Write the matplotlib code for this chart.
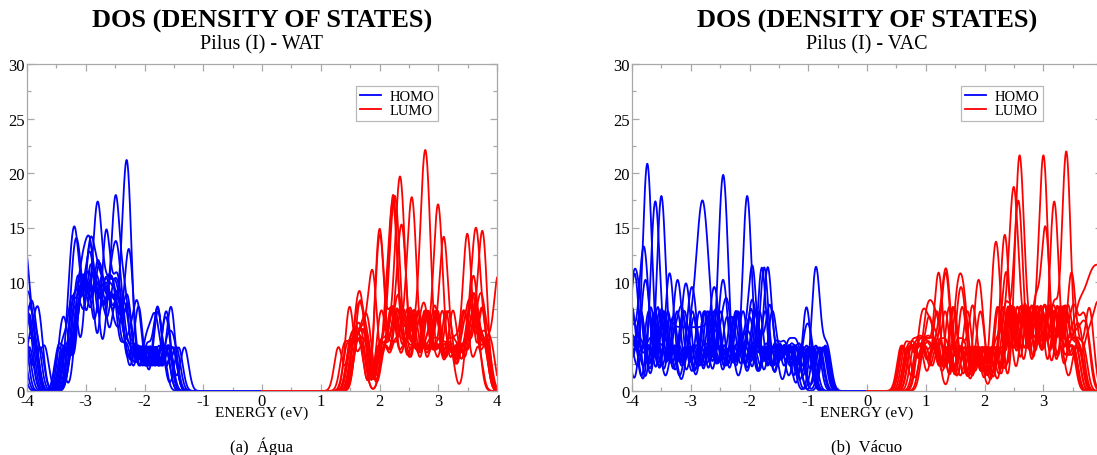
import numpy as np
import matplotlib
matplotlib.use("Agg")
import matplotlib.pyplot as plt
from matplotlib.lines import Line2D
from matplotlib.ticker import MultipleLocator, FuncFormatter

# Orbital energies (eV) of each conformation, relative to the gap centre.
# Every list is one conformation; its DOS curve is the Gaussian-broadened spectrum.
wat_homo = [
    [-4.1, -4.06, -4.02, -3.98, -3.86, -3.38, -3.18, -3.15, -3.08, -2.98, -2.95, -2.9, -2.84, -2.7, -2.66, -2.6,
     -2.47, -2.44, -2.3, -2.25, -2.04, -1.82, -1.6],
    [-4.04, -3.93, -3.88, -3.7, -3.26, -3.2, -3.1, -3.06, -3.0, -2.95, -2.91, -2.87, -2.76, -2.7, -2.56, -2.52,
     -2.44, -2.38, -2.18, -1.96, -1.8, -1.75, -1.52],
    [-4.0, -3.94, -3.82, -3.24, -3.2, -3.16, -3.11, -3.06, -2.92, -2.88, -2.82, -2.72, -2.68, -2.52, -2.47, -2.36,
     -2.3, -2.12, -2.08, -1.86, -1.64],
    [-4.18, -3.96, -3.3, -3.24, -3.2, -3.17, -3.13, -3.02, -2.98, -2.84, -2.8, -2.77, -2.66, -2.63, -2.5, -2.44,
     -2.3, -2.26, -2.04, -1.8, -1.74, -1.52],
    [-4.03, -3.99, -3.9, -3.42, -3.34, -3.16, -3.12, -3.02, -2.98, -2.86, -2.83, -2.8, -2.77, -2.74, -2.64, -2.6,
     -2.5, -2.47, -2.36, -2.14, -1.92, -1.7],
    [-4.16, -4.0, -3.78, -3.22, -3.08, -3.04, -2.97, -2.86, -2.82, -2.72, -2.68, -2.55, -2.52, -2.49, -2.47, -2.44,
     -2.34, -2.3, -2.08, -1.86, -1.64],
    [-4.1, -4.05, -3.45, -3.14, -3.1, -2.96, -2.92, -2.88, -2.78, -2.72, -2.6, -2.56, -2.45, -2.36, -2.33, -2.31,
     -2.29, -2.27, -2.24, -2.02, -1.8, -1.76, -1.58],
    [-4.02, -3.96, -3.32, -3.12, -3.08, -2.98, -2.94, -2.88, -2.7, -2.67, -2.64, -2.61, -2.5, -2.46, -2.4, -2.2,
     -1.98, -1.76, -1.57, -1.53],
    [-4.22, -4.08, -3.46, -3.3, -3.1, -3.06, -3.0, -2.9, -2.86, -2.8, -2.62, -2.58, -2.5, -2.47, -2.44, -2.34,
     -2.18, -1.98, -1.86, -1.78, -1.6],
    [-4.02, -3.88, -3.22, -3.08, -3.04, -2.98, -2.86, -2.82, -2.76, -2.64, -2.6, -2.48, -2.35, -2.28, -2.25, -2.22,
     -2.02, -1.8, -1.58, -1.32],
    [-4.0, -3.93, -3.36, -3.16, -3.1, -3.05, -2.94, -2.9, -2.8, -2.74, -2.62, -2.58, -2.46, -2.42, -2.26, -2.14,
     -2.1, -1.9, -1.68, -1.6],
    [-3.96, -3.84, -3.78, -3.22, -3.18, -3.0, -2.95, -2.91, -2.88, -2.76, -2.72, -2.62, -2.58, -2.48, -2.43, -2.28,
     -2.1, -1.88, -1.66, -1.46],
    [-4.28, -4.12, -3.34, -3.14, -3.1, -2.98, -2.94, -2.9, -2.86, -2.78, -2.74, -2.64, -2.6, -2.52, -2.46, -2.3,
     -2.08, -1.86, -1.66, -1.6],
    [-4.06, -4.01, -3.86, -3.28, -3.18, -3.14, -3.02, -2.98, -2.9, -2.8, -2.76, -2.72, -2.6, -2.56, -2.5, -2.34,
     -2.14, -1.94, -1.72, -1.42],
    [-4.2, -4.0, -3.4, -3.26, -3.22, -3.1, -3.06, -2.97, -2.93, -2.78, -2.73, -2.68, -2.56, -2.52, -2.4, -2.3,
     -2.26, -2.06, -1.84, -1.62, -1.5],
]
wat_lumo = [
    [1.3, 1.52, 1.66, 1.96, 1.99, 2.02, 2.05, 2.22, 2.38, 2.44, 2.6, 2.78, 2.92, 2.97, 3.14, 3.32, 3.5, 3.62, 3.67, 3.84, 3.98, 4.02, 4.07],
    [1.47, 1.51, 1.7, 2.08, 2.17, 2.2, 2.23, 2.26, 2.29, 2.46, 2.62, 2.74, 2.79, 2.96, 3.14, 3.2, 3.42, 3.58, 3.63, 3.8],
    [1.58, 1.66, 1.71, 2.0, 2.15, 2.21, 2.24, 2.27, 2.3, 2.33, 2.5, 2.55, 2.74, 2.92, 2.98, 3.18, 3.36, 3.55, 3.6, 3.64, 3.8],
    [1.6, 1.72, 1.84, 1.88, 1.92, 2.12, 2.26, 2.34, 2.37, 2.4, 2.43, 2.6, 2.78, 2.84, 3.02, 3.2, 3.4, 3.52, 3.56, 3.73, 3.78],
    [1.62, 1.76, 2.04, 2.2, 2.26, 2.45, 2.58, 2.7, 2.73, 2.76, 2.78, 2.8, 2.83, 2.86, 3.05, 3.2, 3.52, 3.56, 3.72, 3.77],
    [1.52, 1.66, 1.78, 2.04, 2.2, 2.25, 2.4, 2.56, 2.62, 2.8, 2.94, 2.97, 3.0, 3.02, 3.06, 3.24, 3.42, 3.6, 3.66, 3.8],
    [1.56, 1.7, 2.08, 2.24, 2.3, 2.48, 2.54, 2.72, 2.9, 3.04, 3.08, 3.11, 3.14, 3.3, 3.48, 3.58, 3.62, 3.78],
    [1.5, 1.62, 1.76, 2.0, 2.06, 2.22, 2.32, 2.36, 2.56, 2.74, 2.8, 2.98, 3.16, 3.3, 3.45, 3.48, 3.51, 3.54, 3.72, 3.84],
    [1.64, 1.68, 1.8, 2.08, 2.26, 2.32, 2.46, 2.52, 2.7, 2.86, 3.0, 3.16, 3.34, 3.5, 3.6, 3.63, 3.66, 3.69, 3.82],
    [1.45, 1.6, 1.7, 1.98, 2.16, 2.22, 2.36, 2.42, 2.6, 2.8, 2.86, 3.04, 3.22, 3.28, 3.46, 3.6, 3.71, 3.74, 3.77, 3.8],
    [1.55, 1.68, 1.8, 2.1, 2.28, 2.34, 2.52, 2.58, 2.76, 2.94, 3.0, 3.2, 3.4, 3.46, 3.62, 3.72, 3.76, 3.9],
    [1.58, 1.66, 1.74, 2.02, 2.16, 2.28, 2.31, 2.34, 2.36, 2.39, 2.42, 2.58, 2.76, 2.82, 3.0, 3.2, 3.42, 3.48, 3.68],
    [1.62, 1.74, 1.82, 2.08, 2.26, 2.4, 2.5, 2.53, 2.55, 2.58, 2.61, 2.78, 2.96, 3.02, 3.22, 3.42, 3.6, 3.66],
    [1.4, 1.55, 1.66, 1.96, 1.99, 2.01, 2.04, 2.18, 2.24, 2.42, 2.62, 2.68, 2.86, 3.04, 3.1, 3.3, 3.5, 3.6, 3.64, 3.78],
    [1.5, 1.64, 1.76, 2.04, 2.18, 2.21, 2.24, 2.25, 2.28, 2.44, 2.64, 2.7, 2.9, 3.1, 3.16, 3.36, 3.56, 3.62, 3.8],
]
vac_homo = [
    [-4.12, -4.0, -3.8, -3.77, -3.74, -3.74, -3.71, -3.68, -3.5, -3.3, -3.18, -3.12, -2.94, -2.74, -2.68, -2.46, -2.24, -2.18, -1.96, -1.72, -1.5, -1.32, -1.12, -0.92],
    [-4.06, -4.02, -3.86, -3.82, -3.78, -3.74, -3.56, -3.3, -3.02, -2.92, -2.87, -2.82, -2.8, -2.77, -2.72, -2.66, -2.44, -2.26, -2.2, -1.98, -1.74, -1.52, -1.34, -1.2, -1.02],
    [-4.08, -3.95, -3.66, -3.63, -3.6, -3.58, -3.55, -3.38, -3.14, -3.08, -2.9, -2.68, -2.5, -2.4, -2.35, -2.14, -1.94, -1.88, -1.64, -1.42, -1.22, -0.96],
    [-4.2, -4.02, -3.8, -3.55, -3.52, -3.5, -3.48, -3.45, -3.26, -3.04, -2.8, -2.74, -2.54, -2.32, -2.09, -2.06, -2.04, -2.02, -1.99, -1.8, -1.58, -1.38, -1.12, -0.8],
    [-4.02, -3.98, -3.91, -3.86, -3.64, -3.4, -3.36, -3.32, -3.1, -2.86, -2.64, -2.58, -2.34, -2.12, -1.98, -1.95, -1.92, -1.7, -1.48, -1.28, -1.0],
    [-4.1, -3.92, -3.7, -3.5, -3.44, -3.22, -3.0, -2.94, -2.72, -2.52, -2.48, -2.46, -2.44, -2.41, -2.38, -2.16, -1.92, -1.7, -1.46, -1.2, -0.98],
    [-4.25, -4.05, -3.88, -3.82, -3.6, -3.38, -3.2, -3.0, -2.78, -2.62, -2.5, -2.28, -2.1, -1.98, -1.78, -1.75, -1.72, -1.52, -1.3, -1.08, -0.85],
    [-4.02, -3.92, -3.74, -3.68, -3.46, -3.26, -3.2, -2.96, -2.74, -2.5, -2.45, -2.4, -2.18, -1.98, -1.95, -1.82, -1.67, -1.63, -1.42, -1.2, -0.82],
    [-4.12, -3.98, -3.8, -3.58, -3.54, -3.32, -3.06, -2.82, -2.6, -2.55, -2.32, -2.06, -1.82, -1.79, -1.76, -1.56, -1.36, -1.05, -1.01, -0.74],
    [-4.05, -3.9, -3.72, -3.52, -3.47, -3.26, -3.04, -2.78, -2.72, -2.52, -2.32, -2.12, -1.92, -1.72, -1.69, -1.66, -1.48, -1.3, -0.9, -0.87, -0.84, -0.68],
    [-4.3, -4.15, -4.0, -3.86, -3.7, -3.56, -3.42, -3.32, -3.2, -3.08, -2.96, -2.84, -2.72, -2.62, -2.42, -2.22, -2.06, -1.9, -1.72, -1.55, -1.4, -1.22, -1.0],
    [-4.02, -3.98, -3.7, -3.66, -3.42, -3.36, -3.14, -3.08, -3.03, -2.8, -2.74, -2.52, -2.46, -2.22, -2.16, -1.92, -1.86, -1.64, -1.58, -1.4, -1.2, -0.72],
    [-4.08, -3.88, -3.82, -3.56, -3.5, -3.28, -3.22, -3.18, -2.98, -2.9, -2.66, -2.6, -2.54, -2.34, -2.26, -2.04, -1.96, -1.72, -1.5, -1.32, -1.06, -0.96],
    [-4.0, -3.95, -3.92, -3.64, -3.58, -3.34, -3.26, -3.04, -2.98, -2.92, -2.7, -2.64, -2.42, -2.34, -2.14, -2.08, -1.86, -1.8, -1.58, -1.3, -1.14, -0.76],
    [-4.18, -4.1, -3.82, -3.77, -3.72, -3.48, -3.42, -3.18, -3.1, -2.88, -2.82, -2.58, -2.52, -2.3, -2.22, -2.0, -1.95, -1.76, -1.7, -1.45, -1.26, -0.88, -0.7],
]
vac_lumo = [
    [0.68, 0.95, 1.16, 1.22, 1.46, 1.5, 1.76, 1.98, 2.24, 2.36, 2.45, 2.48, 2.5, 2.52, 2.55, 2.66, 2.8, 2.96, 3.04,
     3.26, 3.3, 3.48],
    [0.62, 0.88, 1.02, 1.18, 1.22, 1.26, 1.52, 1.66, 1.9, 2.22, 2.26, 2.54, 2.57, 2.59, 2.6, 2.62, 2.65, 2.76, 2.9,
     3.08, 3.15, 3.36, 3.4, 3.56],
    [0.72, 0.9, 1.14, 1.3, 1.34, 1.38, 1.6, 1.64, 1.84, 2.08, 2.36, 2.42, 2.66, 2.7, 2.84, 2.95, 2.98, 3.0, 3.01,
     3.03, 3.06, 3.28, 3.32, 3.5],
    [0.8, 0.96, 1.18, 1.5, 1.56, 1.62, 1.68, 1.88, 2.12, 2.34, 2.38, 2.52, 2.55, 2.58, 2.6, 2.63, 2.82, 2.86, 3.06,
     3.1, 3.3, 3.56],
    [0.9, 0.98, 1.08, 1.2, 1.44, 1.48, 1.68, 1.74, 1.96, 2.2, 2.24, 2.44, 2.48, 2.68, 2.72, 2.94, 2.98, 3.16, 3.2,
     3.34, 3.37, 3.39, 3.4, 3.41, 3.44, 3.62],
    [0.85, 1.02, 1.1, 1.3, 1.36, 1.62, 1.78, 1.82, 2.02, 2.3, 2.33, 2.36, 2.39, 2.6, 2.64, 2.84, 2.88, 3.0, 3.03,
     3.05, 3.08, 3.28, 3.32, 3.52],
    [0.95, 1.15, 1.38, 1.42, 1.62, 1.9, 1.96, 2.18, 2.42, 2.46, 2.66, 2.7, 2.88, 2.92, 3.13, 3.16, 3.19, 3.21, 3.24,
     3.44, 3.48, 3.52, 3.68],
    [0.75, 0.92, 1.12, 1.34, 1.58, 1.82, 2.06, 2.3, 2.34, 2.54, 2.58, 2.78, 2.82, 3.0, 3.04, 3.22, 3.26, 3.44, 3.56,
     3.64, 3.72, 3.79, 3.85, 3.91, 3.97, 4.03, 4.1],
    [0.65, 0.8, 1.0, 1.22, 1.36, 1.6, 1.86, 2.14, 2.18, 2.21, 2.25, 2.46, 2.5, 2.72, 2.76, 2.96, 3.02, 3.22, 3.26,
     3.46, 3.6],
    [0.58, 0.76, 0.95, 1.12, 1.34, 1.58, 1.85, 1.9, 1.95, 2.16, 2.4, 2.44, 2.64, 2.7, 2.92, 2.96, 3.18, 3.24, 3.46,
     3.6, 3.76, 3.81],
    [0.7, 0.86, 1.0, 1.16, 1.4, 1.66, 1.92, 2.18, 2.33, 2.37, 2.41, 2.6, 2.64, 2.84, 2.88, 3.06, 3.12, 3.34, 3.38,
     3.54, 3.64],
    [0.88, 1.04, 1.2, 1.31, 1.35, 1.39, 1.58, 1.82, 2.06, 2.28, 2.5, 2.56, 2.78, 2.82, 2.98, 3.04, 3.16, 3.22, 3.4,
     3.44, 3.6],
    [0.98, 1.12, 1.28, 1.54, 1.6, 1.66, 1.88, 2.12, 2.38, 2.42, 2.6, 2.64, 2.84, 2.88, 3.08, 3.12, 3.28, 3.34, 3.48,
     3.54, 3.66, 3.74],
    [0.6, 0.78, 0.98, 1.06, 1.14, 1.24, 1.46, 1.72, 1.96, 2.24, 2.48, 2.52, 2.72, 2.76, 2.94, 2.98, 3.16, 3.22, 3.4,
     3.54, 3.66, 3.76],
    [0.76, 0.9, 1.04, 1.18, 1.4, 1.66, 1.92, 2.16, 2.42, 2.46, 2.62, 2.68, 2.88, 2.92, 3.1, 3.14, 3.32, 3.36, 3.56,
     3.74, 3.86, 3.94, 4.02],
]

panels = [
    {"subtitle": "Pilus (I) - WAT", "caption": "(a)  Água", "homo": wat_homo, "lumo": wat_lumo},
    {"subtitle": "Pilus (I) - VAC", "caption": "(b)  Vácuo", "homo": vac_homo, "lumo": vac_lumo},
]
title = "DOS (DENSITY OF STATES)"
xlabel = "ENERGY (eV)"
legend_labels = ["HOMO", "LUMO"]

SIGMA = 0.07   # Gaussian broadening (eV)
PEAK = 4.0     # height of a single broadened level


def dos(levels, grid):
    e = np.asarray(levels)[:, None]
    return PEAK * np.exp(-(grid[None, :] - e) ** 2 / (2 * SIGMA ** 2)).sum(axis=0)


plt.rcParams["font.family"] = ["Liberation Serif", "DejaVu Serif"]
plt.rcParams["axes.unicode_minus"] = False

W, H = 1097, 456
fig = plt.figure(figsize=(W / 100, H / 100), dpi=100)

frame_color = "#a8a8a8"
ax_px = [(27, 497), (632, 1102)]
top_px, bot_px = 65, 392

grid_h = np.linspace(-4, 0, 1601)
grid_l = np.linspace(0, 4, 1601)


def xfmt(v, pos):
    return "%d" % round(v)


for i, (p, (x0, x1)) in enumerate(zip(panels, ax_px)):
    ax = fig.add_axes([x0 / W, (H - bot_px) / H, (x1 - x0) / W, (bot_px - top_px) / H])
    for lv in p["homo"]:
        ax.plot(grid_h, dos(lv, grid_h), color="#0000ff", lw=1.3)
    for lv in p["lumo"]:
        ax.plot(grid_l, dos(lv, grid_l), color="#ff0000", lw=1.3)

    ax.set_xlim(-4, 4)
    ax.set_ylim(0, 30)
    if i == 1:
        # the right-hand frame runs past the page edge, so its last label is dropped
        ax.set_xticks(range(-4, 4))
    else:
        ax.xaxis.set_major_locator(MultipleLocator(1))
    ax.xaxis.set_major_formatter(FuncFormatter(xfmt))
    ax.xaxis.set_minor_locator(MultipleLocator(0.5))
    ax.yaxis.set_major_locator(MultipleLocator(5))
    ax.yaxis.set_minor_locator(MultipleLocator(2.5))
    ax.tick_params(which="both", direction="in", top=True, right=True,
                   color=frame_color, labelsize=12, pad=1.5)
    ax.tick_params(which="major", length=5, width=0.9)
    ax.tick_params(which="minor", length=3, width=0.9)
    for s in ax.spines.values():
        s.set_color(frame_color)
        s.set_linewidth(0.9)

    handles = [Line2D([], [], color="#0000ff", lw=1.3), Line2D([], [], color="#ff0000", lw=1.3)]
    leg = ax.legend(handles, legend_labels, loc="upper left", bbox_to_anchor=(0.700, 0.933),
                    frameon=True, fancybox=False, edgecolor=frame_color, fontsize=10.5,
                    handlelength=1.45, handletextpad=0.6, borderpad=0.25, labelspacing=0.1,
                    borderaxespad=0)
    leg.get_frame().set_linewidth(0.9)

    cx = (x0 + x1) / 2 / W
    fig.text(cx, 1 - 21 / H, title, ha="center", va="center", fontsize=19, fontweight="bold")
    fig.text(cx, 1 - 45 / H, p["subtitle"], ha="center", va="center", fontsize=14.5)
    fig.text(cx, 1 - 413 / H, xlabel, ha="center", va="center", fontsize=11)
    fig.text(cx, 1 - 447 / H, p["caption"], ha="center", va="center", fontsize=12)

fig.savefig("out.png", dpi=100)
